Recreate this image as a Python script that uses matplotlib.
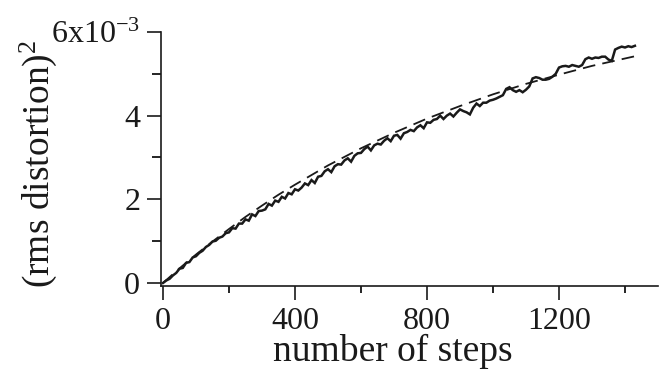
import matplotlib
matplotlib.use("Agg")
import matplotlib.pyplot as plt
from matplotlib.ticker import FixedLocator, FixedFormatter

plt.rcParams['font.family'] = ['Liberation Serif', 'DejaVu Serif']
plt.rcParams['mathtext.fontset'] = 'custom'
plt.rcParams['mathtext.rm'] = 'Liberation Serif'
plt.rcParams['mathtext.it'] = 'Liberation Serif:italic'

# measured (noisy) curve: steps, (rms distortion)^2 in units of 1e-3
steps = [0, 10, 20, 30, 40, 50, 60, 70, 80, 90, 100, 110, 120, 130, 140, 150,
         160, 170, 180, 190, 200, 210, 220, 230, 240, 250, 260, 270, 280, 290,
         300, 310, 320, 330, 340, 350, 360, 370, 380, 390, 400, 410, 420, 430,
         440, 450, 460, 470, 480, 490, 500, 510, 520, 530, 540, 550, 560, 570,
         580, 590, 600, 610, 620, 630, 640, 650, 660, 670, 680, 690, 700, 710,
         720, 730, 740, 750, 760, 770, 780, 790, 800, 810, 820, 830, 840, 850,
         860, 870, 880, 890, 900, 910, 920, 930, 940, 950, 960, 970, 980, 990,
         1000, 1010, 1020, 1030, 1040, 1050, 1060, 1070, 1080, 1090, 1100, 1110,
         1120, 1130, 1140, 1150, 1160, 1170, 1180, 1190, 1200, 1210, 1220, 1230,
         1240, 1250, 1260, 1270, 1280, 1290, 1300, 1310, 1320, 1330, 1340, 1350,
         1360, 1370, 1380, 1390, 1400, 1410, 1420, 1430]
distortion = [0.00, 0.06, 0.10, 0.18, 0.24, 0.34, 0.36, 0.48, 0.50, 0.61, 0.64,
              0.72, 0.77, 0.86, 0.91, 0.99, 1.01, 1.08, 1.11, 1.19, 1.21, 1.31,
              1.30, 1.42, 1.42, 1.52, 1.49, 1.64, 1.60, 1.72, 1.73, 1.76, 1.89,
              1.85, 1.97, 1.94, 2.06, 2.02, 2.15, 2.12, 2.24, 2.21, 2.28, 2.38,
              2.34, 2.46, 2.39, 2.54, 2.56, 2.67, 2.72, 2.65, 2.79, 2.84, 2.83,
              2.93, 2.98, 2.90, 3.04, 3.10, 3.11, 3.20, 3.26, 3.17, 3.29, 3.33,
              3.31, 3.40, 3.46, 3.39, 3.52, 3.54, 3.45, 3.58, 3.61, 3.66, 3.63,
              3.72, 3.77, 3.70, 3.84, 3.83, 3.90, 3.92, 4.00, 3.92, 4.00, 4.05,
              3.98, 4.07, 4.15, 4.11, 4.08, 4.03, 4.19, 4.29, 4.23, 4.31, 4.31,
              4.36, 4.38, 4.41, 4.45, 4.49, 4.64, 4.68, 4.61, 4.57, 4.61, 4.56,
              4.62, 4.70, 4.89, 4.92, 4.90, 4.86, 4.86, 4.88, 4.93, 5.00, 5.15,
              5.18, 5.19, 5.17, 5.21, 5.19, 5.17, 5.21, 5.35, 5.39, 5.36, 5.39,
              5.38, 5.41, 5.41, 5.34, 5.31, 5.58, 5.62, 5.65, 5.63, 5.66, 5.64,
              5.67]

# fitted (dashed) curve
fit_steps = [0, 50, 100, 150, 200, 250, 300, 350, 400, 500, 600, 700, 800, 900,
             1000, 1100, 1200, 1300, 1430]
fit_values = [0.00, 0.35, 0.68, 0.99, 1.29, 1.58, 1.85, 2.11, 2.35, 2.81, 3.22,
              3.59, 3.93, 4.23, 4.51, 4.76, 4.98, 5.19, 5.42]

x_major = [0, 400, 800, 1200]
x_major_labels = ['0', '400', '800', '1200']
x_minor = [200, 600, 1000, 1400]
y_major = [0, 2e-3, 4e-3, 6e-3]
y_major_labels = ['0', '2', '4', r'6x10$^{-3}$']
y_minor = [1e-3, 3e-3, 5e-3]

scale = 1e-3

fig = plt.figure(figsize=(6.61, 3.71), dpi=100)
ax = fig.add_axes([161/661, 1-286/371, (658-161)/661, (286-32)/371])

ax.plot(steps, [v*scale for v in distortion], color='#1a1a1a', lw=1.8,
        solid_joinstyle='miter')
ax.plot(fit_steps, [v*scale for v in fit_values], color='#1a1a1a', lw=1.3,
        dashes=(7, 4))

ax.set_xlim(-6, 1500)
ax.set_ylim(-0.072e-3, 6e-3)

ax.spines['top'].set_visible(False)
ax.spines['right'].set_visible(False)
for s in ('left', 'bottom'):
    ax.spines[s].set_linewidth(1.2)
    ax.spines[s].set_color('#1a1a1a')

ax.xaxis.set_major_locator(FixedLocator(x_major))
ax.xaxis.set_major_formatter(FixedFormatter(x_major_labels))
ax.xaxis.set_minor_locator(FixedLocator(x_minor))
ax.yaxis.set_major_locator(FixedLocator(y_major))
ax.yaxis.set_major_formatter(FixedFormatter(y_major_labels))
ax.yaxis.set_minor_locator(FixedLocator(y_minor))

ax.tick_params(axis='x', which='major', length=10, width=1.2, direction='out',
               labelsize=23, pad=5, colors='#1a1a1a')
ax.tick_params(axis='x', which='minor', length=5, width=1.2, direction='out')
ax.tick_params(axis='y', which='major', length=10, width=1.2, direction='out',
               labelsize=23, pad=5, colors='#1a1a1a')
ax.tick_params(axis='y', which='minor', length=6.5, width=1.2, direction='out')

ax.set_xlabel('number of steps', fontsize=27, color='#1a1a1a')
ax.xaxis.set_label_coords(0.467, -0.19)
ax.set_ylabel('(rms distortion)$^2$', fontsize=27, color='#1a1a1a')
ax.yaxis.set_label_coords(-0.205, 0.48)

fig.savefig('out.png', dpi=100)
